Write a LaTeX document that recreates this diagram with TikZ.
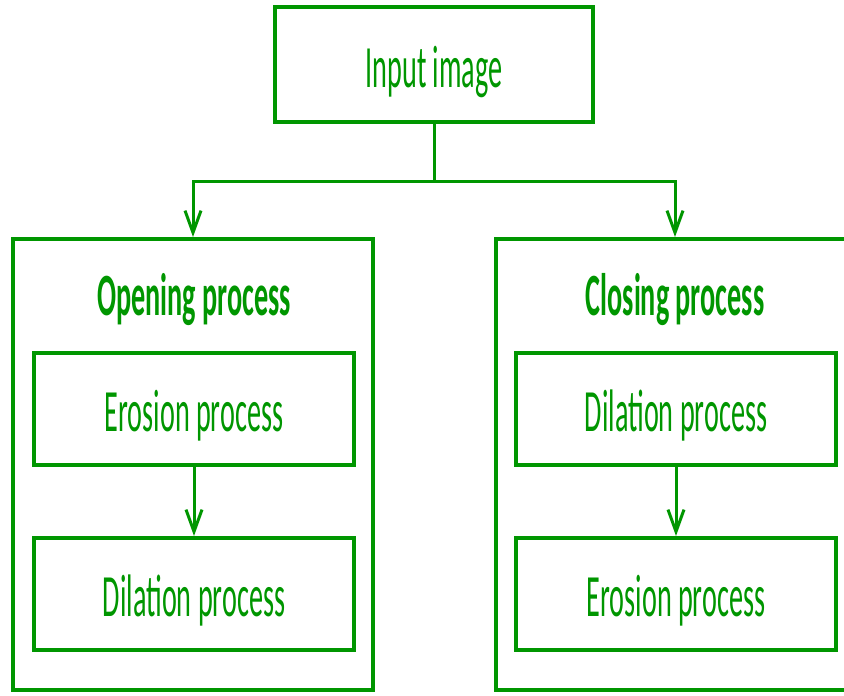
\documentclass[tikz,border=0pt]{standalone}
\usepackage{fontspec}
\setmainfont{Carlito}
\usetikzlibrary{arrows.meta}
\definecolor{leaf}{RGB}{0,150,0}
\newcommand{\narrow}[1]{\scalebox{0.47}[1]{#1}}
\tikzset{
  stage/.style={draw=leaf, line width=4pt, rectangle, text=leaf,
    minimum width=320pt, minimum height=112pt, inner sep=0pt,
    text height=46pt, text depth=0pt,
    font=\fontsize{60}{60}\selectfont},
  group/.style={draw=leaf, line width=4pt, rectangle,
    minimum width=360pt, minimum height=451pt, inner sep=0pt},
  grouptitle/.style={text=leaf, anchor=base, inner sep=0pt,
    font=\fontsize{60}{60}\selectfont\bfseries},
  flow/.style={draw=leaf, line width=3pt,
    -{Straight Barb[length=22pt,width=16pt]}},
}
\begin{document}
\begin{tikzpicture}[x=1pt,y=1pt]
\useasboundingbox (0,0) rectangle (844,696);
\clip (0,0) rectangle (844,696);

% source image
\node[stage, minimum width=318pt, minimum height=115pt] (input) at (434,631.5) {\narrow{Input image}};

% opening branch
\node[group] (open) at (193,231.5) {};
\node[grouptitle] (opentitle) at (194,380) {\narrow{Opening process}};
\node[stage] (oero) at (194,287) {\narrow{Erosion process}};
\node[stage] (odil) at (194,102) {\narrow{Dilation process}};

% closing branch
\node[group] (close) at (676,231.5) {};
\node[grouptitle] (closetitle) at (675,380) {\narrow{Closing process}};
\node[stage] (cdil) at (676,287) {\narrow{Dilation process}};
\node[stage] (cero) at (676,102) {\narrow{Erosion process}};

% connectors
\coordinate (split) at (434,514);
\draw[draw=leaf, line width=3pt] (input.south) -- (split);
\draw[flow] (split) -| (open.north);
\draw[flow] (split) -| ([xshift=-1pt]close.north);
\draw[flow] (oero.south) -- (odil.north);
\draw[flow] (cdil.south) -- (cero.north);
\end{tikzpicture}
\end{document}
